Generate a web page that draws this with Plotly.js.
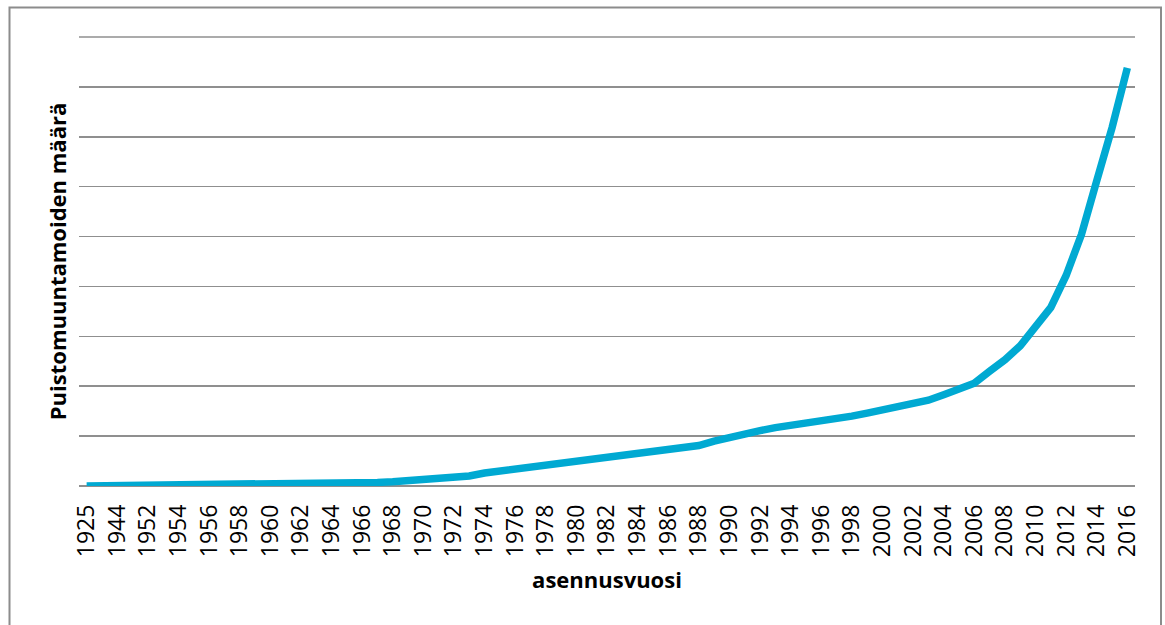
<!DOCTYPE html>
<html>
<head>
<meta charset="utf-8">
<script src="https://cdn.plot.ly/plotly-3.0.1.min.js"></script>
<style>
  html, body { margin: 0; padding: 0; background: #ffffff; }
  #chart { width: 1165px; height: 625px; }
</style>
</head>
<body>
<div id="chart"></div>
<script>
// Installation years (category axis) and cumulative transformer counts
const years = [
  '1925', '1939', '1944', '1950',
  '1952', '1953', '1954', '1955', '1956', '1957', '1958', '1959',
  '1960', '1961', '1962', '1963', '1964', '1965', '1966', '1967', '1968', '1969',
  '1970', '1971', '1972', '1973', '1974', '1975', '1976', '1977', '1978', '1979',
  '1980', '1981', '1982', '1983', '1984', '1985', '1986', '1987', '1988', '1989',
  '1990', '1991', '1992', '1993', '1994', '1995', '1996', '1997', '1998', '1999',
  '2000', '2001', '2002', '2003', '2004', '2005', '2006', '2007', '2008', '2009',
  '2010', '2011', '2012', '2013', '2014', '2015', '2016'
];

const counts = [
  1, 2, 3, 4,
  5, 6, 7, 8, 9, 10, 11, 13,
  15, 17, 19, 22, 25, 28, 32, 36, 42, 50,
  60, 72, 86, 100, 130, 150, 170, 190, 205, 225,
  245, 265, 280, 295, 315, 335, 355, 380, 405, 450,
  490, 525, 555, 585, 605, 630, 655, 675, 700, 730,
  765, 785, 820, 860, 915, 970, 1030, 1150, 1265, 1405,
  1600, 1790, 2110, 2520, 3060, 3590, 4190
];

// Every other year is labelled on the axis
const tickYears = years.filter((y, i) => i % 2 === 0);

const yMax = 4500;
const xTitle = 'asennusvuosi';
const yTitle = 'Puistomuuntamoiden määrä';

const gridColor = '#8f8f8f';

const trace = {
  type: 'scatter',
  mode: 'lines',
  x: years,
  y: counts,
  line: { color: '#00a9d2', width: 7.5 },
  hoverinfo: 'x+y',
  showlegend: false
};

// plot area: 1056 x 449 px, top edge at y = 37
const plotW = 1056, plotH = 449, plotL = 79, plotB = 486;

const layout = {
  width: 1165,
  height: 625,
  margin: { l: plotL, r: 30, t: 37, b: 139, pad: 0 },
  paper_bgcolor: '#ffffff',
  plot_bgcolor: '#ffffff',
  font: { family: '"Open Sans", "Noto Sans", sans-serif', color: '#000000' },
  xaxis: {
    type: 'category',
    range: [-0.5, years.length - 0.5],
    tickmode: 'array',
    tickvals: tickYears,
    ticktext: tickYears,
    tickangle: -90,
    tickfont: { family: '"Open Sans", sans-serif', size: 23, color: '#000000' },
    ticks: '',
    ticklabelstandoff: 13,
    showgrid: false,
    zeroline: false,
    showline: false,
    title: {
      text: xTitle,
      font: { family: '"Open Sans", sans-serif', size: 22, color: '#000000', weight: 'bold' },
      standoff: 16
    }
  },
  yaxis: {
    range: [0, yMax],
    dtick: 500,
    tick0: 0,
    showticklabels: false,
    ticks: '',
    showgrid: true,
    gridcolor: gridColor,
    gridwidth: 1.5,
    zeroline: true,
    zerolinecolor: gridColor,
    zerolinewidth: 1.5,
    showline: false,
    title: {
      text: yTitle,
      font: { family: '"Open Sans", sans-serif', size: 22, color: '#000000', weight: 'bold' },
      standoff: 5
    }
  },
  shapes: [
    {
      // top gridline along the upper edge of the plot area
      type: 'line',
      xref: 'paper', yref: 'paper',
      x0: 0, x1: 1, y0: 1, y1: 1,
      line: { color: gridColor, width: 1.5 },
      layer: 'above'
    },
    {
      // chart frame; its bottom edge runs past the page
      type: 'rect',
      xref: 'paper', yref: 'paper',
      x0: (9.5 - plotL) / plotW, x1: (1161 - plotL) / plotW,
      y0: (plotB - 640) / plotH, y1: (plotB - 7.5) / plotH,
      line: { color: '#8c8c8c', width: 2 },
      fillcolor: 'rgba(0,0,0,0)',
      layer: 'below'
    }
  ]
};

Plotly.newPlot('chart', [trace], layout, { displayModeBar: false, staticPlot: true });
</script>
</body>
</html>
